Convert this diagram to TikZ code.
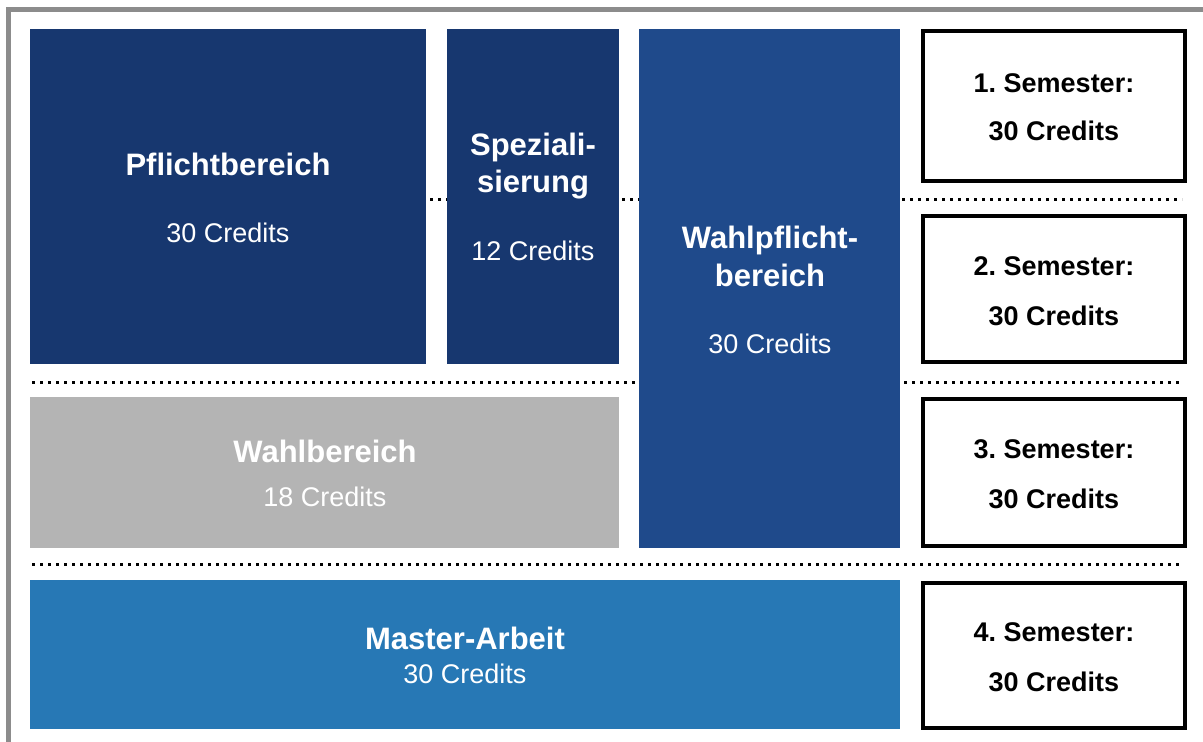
\documentclass[tikz,border=0pt]{standalone}
\usepackage{fontspec}
\setmainfont{Liberation Sans}
\frenchspacing
\definecolor{navy}{HTML}{17376F}
\definecolor{midblue}{HTML}{1F4A8B}
\definecolor{lightblue}{HTML}{2778B5}
\definecolor{greyfill}{HTML}{B4B4B4}
\definecolor{framegray}{HTML}{8C8C8C}
\begin{document}
\begin{tikzpicture}[x=1pt,y=-1pt,
  blk/.style={draw=none, inner sep=0pt, outer sep=0pt},
  ttl/.style={font=\fontsize{31}{36}\selectfont\bfseries, text=white, anchor=base, inner sep=0pt},
  crd/.style={font=\fontsize{27}{32}\selectfont, text=white, anchor=base, inner sep=0pt},
  semtxt/.style={font=\fontsize{27}{32}\selectfont\bfseries, text=black, anchor=base, inner sep=0pt},
  sembox/.style={draw=black, line width=4pt, fill=white, inner sep=0pt, minimum width=262, minimum height=146},
  dots/.style={line width=3pt, dash pattern=on 3pt off 5pt}]
\useasboundingbox (0,0) rectangle (1203,742);
\clip (0,0) rectangle (1203,742);
\draw[framegray, line width=5pt] (8.5,9.5) rectangle (1220,760);
% dotted separators
\coordinate (l1a) at (30,199);  \coordinate (l1b) at (1182,199);
\coordinate (l2a) at (32,382);  \coordinate (l2b) at (1182,382);
\coordinate (l3a) at (32,564);  \coordinate (l3b) at (1182,564);
\draw[dots] (l1a) -- (l1b);
\draw[dots] (l2a) -- (l2b);
\draw[dots] (l3a) -- (l3b);
% blocks
\node[blk, fill=navy, minimum width=396, minimum height=335] (pf) at (228,196.5) {};
\node[blk, fill=navy, minimum width=172, minimum height=335] (sp) at (533,196.5) {};
\node[blk, fill=midblue, minimum width=261, minimum height=519] (wp) at (769.5,288.5) {};
\node[blk, fill=greyfill, minimum width=589, minimum height=151] (wb) at (324.5,472.5) {};
\node[blk, fill=lightblue, minimum width=870, minimum height=149] (ma) at (465,654.5) {};
% block texts
\node[ttl] (pft) at (228,175) {Pflichtbereich};
\node[crd] (pfc) at (228,242) {30 Credits};
\node[ttl] (spt1) at (533,155) {Speziali-};
\node[ttl] (spt2) at (533,192) {sierung};
\node[crd] (spc) at (533,260) {12 Credits};
\node[ttl] (wpt1) at (770,248) {Wahlpflicht-};
\node[ttl] (wpt2) at (770,286) {bereich};
\node[crd] (wpc) at (770,353) {30 Credits};
\node[ttl] (wbt) at (325,462) {Wahlbereich};
\node[crd] (wbc) at (325,506) {18 Credits};
\node[ttl] (mat) at (465,649) {Master-Arbeit};
\node[crd] (mac) at (465,683) {30 Credits};
% semester boxes
\node[sembox, minimum height=150] (s1) at (1054,106) {};
\node[sembox, minimum height=146] (s2) at (1054,289) {};
\node[sembox, minimum height=147] (s3) at (1054,472.5) {};
\node[sembox, minimum height=145] (s4) at (1054,655.5) {};
\node[semtxt] (s1a) at (1054,92) {1. Semester:};
\node[semtxt] (s1b) at (1054,140) {30 Credits};
\node[semtxt] (s2a) at (1054,275) {2. Semester:};
\node[semtxt] (s2b) at (1054,325) {30 Credits};
\node[semtxt] (s3a) at (1054,458) {3. Semester:};
\node[semtxt] (s3b) at (1054,508) {30 Credits};
\node[semtxt] (s4a) at (1054,641) {4. Semester:};
\node[semtxt] (s4b) at (1054,691) {30 Credits};
\end{tikzpicture}
\end{document}
